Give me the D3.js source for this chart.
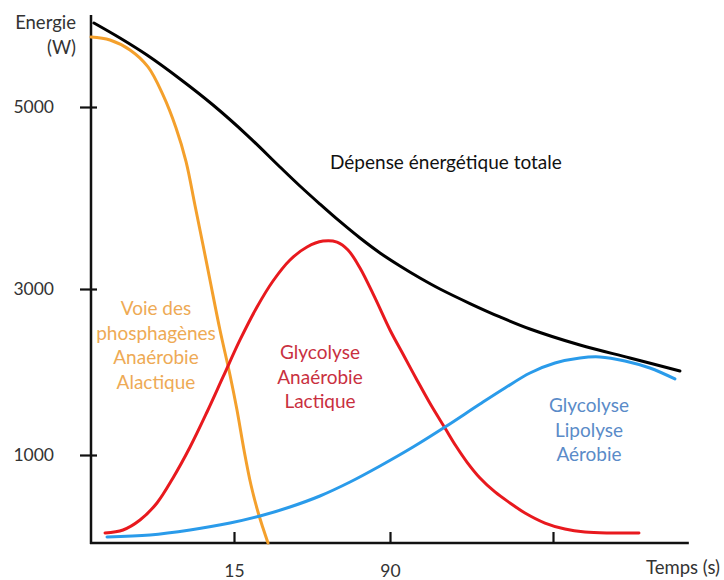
<!DOCTYPE html>
<html><head><meta charset="utf-8">
<script src="https://cdn.jsdelivr.net/npm/d3@7"></script>
<style>
html,body{margin:0;padding:0;background:#fff;}
text{font-family:Lato,"Open Sans",sans-serif;}
</style></head>
<body><svg id="c" width="724" height="580"></svg>
<script>
// ---- data (schematic: time in s, power in W) ----
const xTickValues = [15, 90, 240];
const xTickLabels = ["15", "90", ""];
const yTickValues = [1000, 3000, 5000];
const yTickLabels = ["1000", "3000", "5000"];

const totalT = [0.31, 3.04, 5.87, 9.34, 12.8, 21.25, 37.1, 46.7, 56.3, 65.9, 75.6, 85.2, 99.2, 117.6, 136, 163.6, 191.2, 218.8, 264.8, 310.8, 356.8];
const totalV = [5923, 5758, 5571, 5308, 5022, 4692, 4341, 4132, 3934, 3742, 3560, 3396, 3253, 3121, 3000, 2825, 2663, 2518, 2325, 2169, 2012];

const phosT = [0, 1.99, 4.09, 5.98, 7.55, 8.92, 9.97, 10.9, 11.75, 12.48, 13.53, 14.58, 16.44, 19.81, 23.17, 26.54, 28.94, 31.35];
const phosV = [5769, 5736, 5626, 5440, 5132, 4769, 4400, 3923, 3484, 3099, 2506, 1964, 1542, 1060, 659, 352, 170, 0];

const lactT = [1.47, 3.36, 5.14, 6.92, 8.6, 10.39, 12.17, 13.85, 17.88, 26.06, 33.75, 41.92, 50.1, 57.79, 64.52, 69.81, 75.58, 82.79, 90, 102.9, 114.8, 127.7, 140.6, 150.7, 160.8, 172.8, 186.6, 200.4, 214.2, 232.6, 251, 269.4, 292.4, 319.1];
const lactV = [114, 148, 261, 455, 739, 1096, 1518, 1940, 2386, 2783, 3088, 3319, 3462, 3527, 3516, 3429, 3231, 2892, 2506, 2193, 1904, 1602, 1325, 1108, 920, 739, 580, 455, 341, 227, 159, 125, 114, 114];

const aeroT = [1.68, 6.19, 10.39, 14.58, 27.5, 41.9, 56.3, 70.8, 85.2, 111.2, 140.6, 172.8, 195.8, 218.8, 241.8, 264.8, 283.2, 306.2, 329.2, 352.2];
const aeroV = [68, 91, 148, 227, 307, 409, 534, 693, 875, 1096, 1337, 1614, 1807, 1988, 2108, 2169, 2181, 2133, 2048, 1916];

// ---- scales (schematic, piecewise) ----
const x = d3.scaleLinear().domain([0, 15, 90, 240]).range([91, 234, 390, 553]);
const y = d3.scaleLinear().domain([0, 1000, 3000, 5000]).range([543, 455, 289, 107]);

const svg = d3.select("#c");
const ink = "#333";

// axes
const xAxis = svg.append("g").attr("transform", `translate(0,${y(0)})`)
  .call(d3.axisBottom(x).tickValues(xTickValues).tickFormat((d, i) => xTickLabels[i]).tickSize(-11).tickPadding(22));
const yAxis = svg.append("g").attr("transform", `translate(${x(0)},0)`)
  .call(d3.axisLeft(y).tickValues(yTickValues).tickFormat((d, i) => yTickLabels[i]).tickSize(11).tickPadding(26));
[xAxis, yAxis].forEach(g => {
  g.select(".domain").remove();
  g.selectAll(".tick line").attr("stroke", "#111").attr("stroke-width", 2.2);
  g.selectAll(".tick text").attr("fill", ink).style("font-size", "17.5px");
});
yAxis.selectAll(".tick line").attr("x1", 6);
// axis lines
svg.append("line").attr("x1", x(0)).attr("x2", x(0)).attr("y1", y(6010)).attr("y2", y(0) + 1)
  .attr("stroke", "#111").attr("stroke-width", 2.5);
svg.append("line").attr("x1", x(0) - 1).attr("x2", x(365)).attr("y1", y(0)).attr("y2", y(0))
  .attr("stroke", "#111").attr("stroke-width", 2.5);

// curves
const line = d3.line().curve(d3.curveCatmullRom.alpha(0.5)).x(d => x(d[0])).y(d => y(d[1]));
const zip = (a, b) => a.map((t, i) => [t, b[i]]);
const series = [
  {name: "total", data: zip(totalT, totalV), color: "#000000"},
  {name: "phos", data: zip(phosT, phosV), color: "#f4a02c"},
  {name: "lact", data: zip(lactT, lactV), color: "#e8191e"},
  {name: "aero", data: zip(aeroT, aeroV), color: "#2a9bea"}
];
svg.selectAll("path.s").data(series).join("path").attr("class", "s")
  .attr("d", d => line(d.data)).attr("fill", "none")
  .attr("stroke", d => d.color).attr("stroke-width", 3).attr("stroke-linecap", "round");

// axis titles
const fs = "19px";
svg.append("text").attr("x", 76).attr("y", 29).attr("text-anchor", "end").attr("fill", ink).style("font-size", "18.5px").text("Energie");
svg.append("text").attr("x", 76).attr("y", 54).attr("text-anchor", "end").attr("fill", ink).style("font-size", "18.5px").text("(W)");
svg.append("text").attr("x", 720).attr("y", 574).attr("text-anchor", "end").attr("fill", ink).style("font-size", "18.5px").text("Temps (s)");

// labels
function block(lines, cx, y0, color) {
  lines.forEach((s, i) => svg.append("text").attr("x", cx).attr("y", y0 + i * 24.5)
    .attr("text-anchor", "middle").attr("fill", color).style("font-size", fs).text(s));
}
svg.append("text").attr("x", 330).attr("y", 169).attr("fill", "#111").style("font-size", fs).text("Dépense énergétique totale");
block(["Voie des", "phosphagènes", "Anaérobie", "Alactique"], 156, 315, "#eeaa55");
block(["Glycolyse", "Anaérobie", "Lactique"], 320, 359, "#c9303f");
block(["Glycolyse", "Lipolyse", "Aérobie"], 589, 412, "#5a8bc8");
</script></body></html>
